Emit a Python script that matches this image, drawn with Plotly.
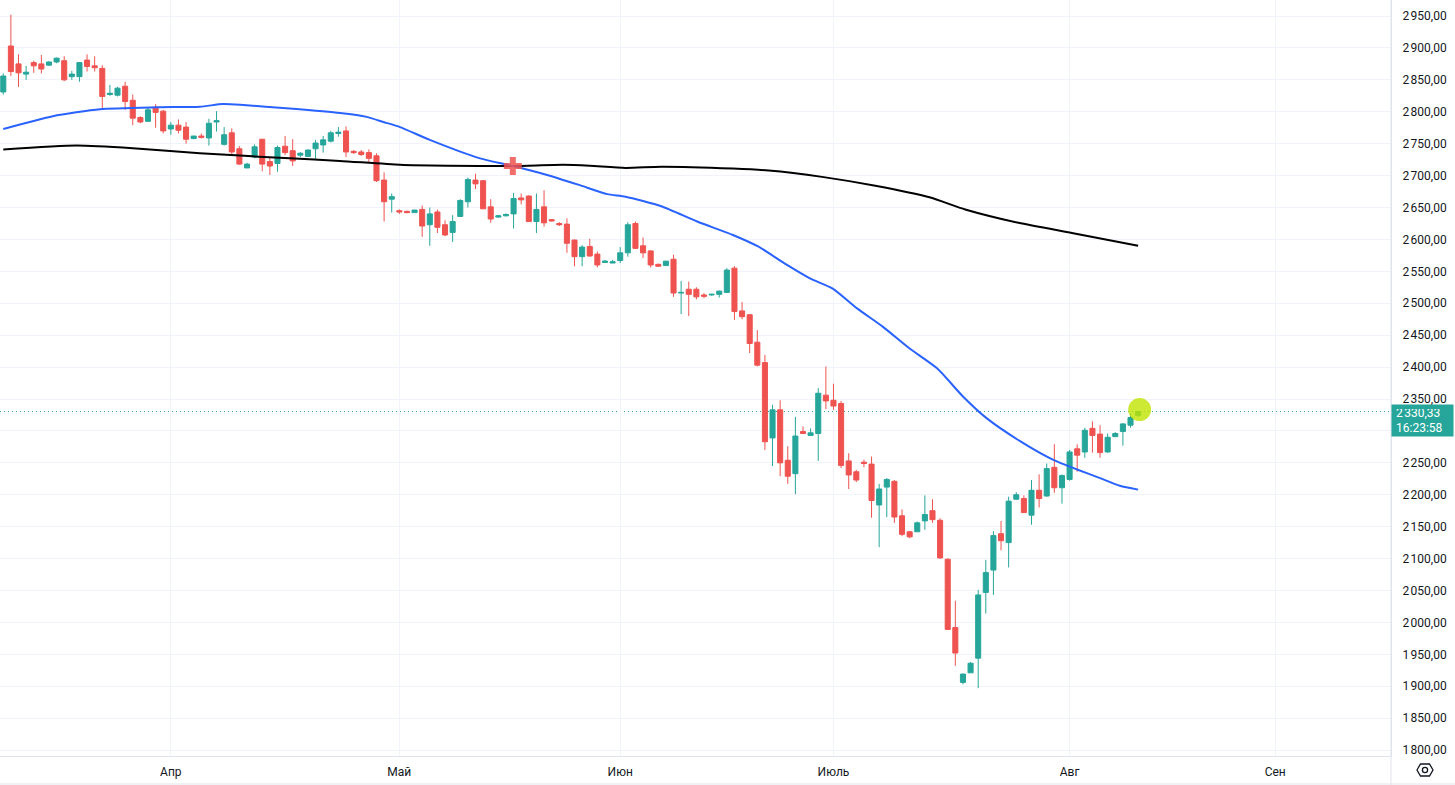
import plotly.graph_objects as go

# ---------------- data ----------------
opens = [2831, 2903, 2875, 2859, 2877, 2875, 2873, 2878, 2880, 2855,
         2855, 2881, 2872, 2868, 2827, 2826, 2840, 2818, 2791, 2785,
         2807, 2801, 2773, 2779, 2776, 2758, 2762, 2759, 2784, 2749,
         2767, 2742, 2712, 2729, 2757, 2722, 2719, 2746, 2739, 2732,
         2730, 2742, 2748, 2754, 2766, 2770, 2738, 2737, 2736, 2731,
         2693, 2663, 2645, 2644, 2642, 2647, 2623, 2643, 2623, 2611,
         2636, 2659, 2693, 2692, 2651, 2635, 2637, 2640, 2665, 2668,
         2628, 2651, 2631, 2625, 2624, 2599, 2573, 2589, 2577, 2564,
         2563, 2567, 2579, 2625, 2590, 2582, 2561, 2559, 2569, 2516,
         2522, 2522, 2513, 2513, 2514, 2517, 2555, 2488, 2482, 2439,
         2407, 2289, 2333, 2254, 2233, 2299, 2293, 2296, 2356, 2348,
         2343, 2253, 2236, 2251, 2248, 2184, 2212, 2221, 2167, 2142,
         2142, 2159, 2175, 2160, 2099, 1992, 1906, 1921, 1944, 2047,
         2082, 2139, 2125, 2193, 2194, 2168, 2207, 2198, 2243, 2211,
         2224, 2272, 2267, 2304, 2295, 2267, 2291, 2299, 2309, 2324]
highs = [2860, 2952, 2890, 2872, 2880, 2889, 2879, 2885, 2887, 2864,
         2878, 2890, 2887, 2873, 2842, 2839, 2847, 2827, 2793, 2806,
         2812, 2803, 2784, 2788, 2784, 2762, 2766, 2789, 2801, 2776,
         2774, 2746, 2720, 2749, 2757, 2729, 2747, 2762, 2757, 2737,
         2741, 2756, 2762, 2770, 2776, 2777, 2740, 2740, 2741, 2735,
         2705, 2672, 2647, 2645, 2646, 2653, 2650, 2647, 2630, 2638,
         2663, 2697, 2703, 2693, 2663, 2638, 2641, 2673, 2672, 2669,
         2672, 2677, 2632, 2627, 2633, 2600, 2591, 2601, 2581, 2568,
         2568, 2588, 2627, 2628, 2603, 2583, 2562, 2566, 2576, 2535,
         2534, 2525, 2516, 2515, 2520, 2555, 2558, 2502, 2483, 2458,
         2419, 2341, 2348, 2276, 2322, 2307, 2304, 2367, 2401, 2374,
         2347, 2265, 2239, 2255, 2260, 2217, 2226, 2223, 2177, 2143,
         2158, 2199, 2193, 2163, 2100, 2034, 1920, 1938, 2051, 2098,
         2143, 2159, 2197, 2204, 2199, 2223, 2232, 2249, 2279, 2232,
         2270, 2279, 2305, 2315, 2309, 2296, 2298, 2312, 2327, 2331]
lows = [2827, 2856, 2839, 2850, 2861, 2860, 2872, 2876, 2848, 2850,
        2847, 2863, 2863, 2803, 2825, 2824, 2803, 2779, 2782, 2784,
        2775, 2766, 2764, 2766, 2750, 2757, 2758, 2747, 2769, 2747,
        2732, 2717, 2712, 2727, 2707, 2701, 2706, 2732, 2715, 2729,
        2730, 2726, 2736, 2752, 2761, 2729, 2734, 2731, 2721, 2690,
        2628, 2642, 2640, 2641, 2642, 2604, 2590, 2610, 2605, 2596,
        2635, 2650, 2679, 2648, 2626, 2634, 2636, 2617, 2655, 2628,
        2610, 2620, 2628, 2621, 2579, 2558, 2558, 2573, 2556, 2563,
        2563, 2563, 2573, 2585, 2571, 2556, 2557, 2559, 2510, 2483,
        2480, 2506, 2508, 2512, 2509, 2516, 2474, 2475, 2422, 2401,
        2270, 2245, 2229, 2217, 2201, 2295, 2293, 2253, 2334, 2333,
        2242, 2209, 2220, 2243, 2164, 2118, 2165, 2156, 2135, 2132,
        2142, 2145, 2156, 2100, 1988, 1932, 1903, 1921, 1897, 2014,
        2043, 2113, 2086, 2192, 2172, 2153, 2180, 2197, 2203, 2186,
        2222, 2236, 2258, 2266, 2258, 2266, 2291, 2277, 2305, 2322]
closes = [2856, 2863, 2861, 2862, 2872, 2867, 2878, 2884, 2850, 2859,
          2877, 2871, 2869, 2824, 2829, 2837, 2816, 2790, 2784, 2803,
          2799, 2770, 2779, 2771, 2757, 2762, 2760, 2782, 2786, 2764,
          2737, 2718, 2718, 2745, 2718, 2715, 2744, 2736, 2723, 2735,
          2740, 2751, 2756, 2767, 2768, 2737, 2736, 2733, 2727, 2692,
          2659, 2667, 2643, 2642, 2646, 2621, 2640, 2619, 2607, 2628,
          2661, 2694, 2687, 2648, 2632, 2637, 2639, 2664, 2662, 2628,
          2647, 2626, 2629, 2623, 2594, 2573, 2588, 2574, 2560, 2566,
          2565, 2579, 2623, 2586, 2579, 2560, 2558, 2566, 2516, 2517,
          2514, 2510, 2511, 2514, 2519, 2552, 2487, 2479, 2437, 2403,
          2283, 2333, 2250, 2229, 2292, 2296, 2297, 2359, 2347, 2339,
          2246, 2231, 2223, 2249, 2191, 2209, 2224, 2165, 2138, 2134,
          2156, 2169, 2161, 2101, 1989, 1952, 1919, 1936, 2043, 2078,
          2136, 2128, 2190, 2200, 2172, 2207, 2194, 2241, 2211, 2230,
          2267, 2262, 2301, 2293, 2266, 2290, 2296, 2311, 2321, 2330.33]
bar_index = list(range(len(closes)))

# moving averages (bar position, value)
ma_fast_x = [0, 6.5, 12.7, 20.2, 25.8, 28.8, 31.1, 37.6, 44.2, 47.7,
             49.9, 52.1, 56.0, 62.6, 66.9, 71.4, 75.7, 79.3, 81.7, 86.4,
             91.1, 95.8, 99.1, 102.9, 105.9, 108.9, 112.1, 115.5, 119.0, 122.6,
             126.0, 129.1, 133.5, 137.8, 140.9, 144.0, 146.6, 149]
ma_fast_y = [2773, 2793, 2804, 2807, 2808, 2812, 2811, 2805, 2798, 2792,
             2784, 2776, 2756, 2727, 2715, 2701, 2685, 2671, 2667, 2652,
             2628, 2607, 2589, 2560, 2539, 2523, 2492, 2463, 2429, 2398,
             2354, 2320, 2284, 2255, 2240, 2226, 2214, 2208]
ma_slow_x = [0, 9.6, 17.0, 25.8, 37.6, 44.2, 52.1, 58.3, 66.9, 73.5,
             77.0, 81.7, 86.4, 95.8, 100.5, 107.5, 114.5, 121.6, 126.3, 133.3,
             140.3, 149]
ma_slow_y = [2741, 2747, 2743, 2735, 2727, 2723, 2717, 2715.5, 2715, 2717,
             2715.5, 2712, 2714, 2711, 2708, 2698, 2684, 2666, 2647, 2626,
             2610, 2590]

cross_x = [66.9]
cross_y = [2715]
highlight_x = [149.2]
highlight_y = [2333.5]

last_price = 2330.33
countdown = "16:23:58"

month_ticks = [22, 52, 81, 109, 140, 167]
month_labels = ["Апр", "Май", "Июн", "Июль", "Авг", "Сен"]
price_ticks = list(range(1800, 2951, 50))
hidden_price_ticks = [2300]   # covered by the last-price label in the reference

# ---------------- helpers ----------------
NNBSP = "\u202f"


def fmt(v):
    s = f"{v:,.2f}"
    return s.replace(",", NNBSP).replace(".", ",")


UP = "#26a69a"
DOWN = "#ef5350"
TXT = "#131722"
GRID = "#f0f3fa"
BORDER = "#e0e3eb"
FONT = "Roboto"

W, H = 1455, 785
ML, MR, MT, MB = 0, 64, 0, 29
PW, PH = W - ML - MR, H - MT - MB


def px(xp):
    return xp / PW


def py(yp):
    return (PH - yp) / PH


fig = go.Figure()

fig.add_trace(go.Scatter(
    x=ma_slow_x, y=ma_slow_y, mode="lines",
    line=dict(color="#000000", width=2, shape="spline", smoothing=0.6),
    hoverinfo="skip"))
fig.add_trace(go.Scatter(
    x=ma_fast_x, y=ma_fast_y, mode="lines",
    line=dict(color="#2962ff", width=2, shape="spline", smoothing=0.6),
    hoverinfo="skip"))

fig.add_trace(go.Candlestick(
    x=bar_index, open=opens, high=highs, low=lows, close=closes,
    increasing=dict(line=dict(color=UP, width=1), fillcolor=UP),
    decreasing=dict(line=dict(color=DOWN, width=1), fillcolor=DOWN),
    whiskerwidth=0, hoverinfo="skip"))

fig.add_trace(go.Scatter(
    x=cross_x, y=cross_y, mode="markers",
    marker=dict(symbol="cross", size=15, color="rgba(239,83,80,0.85)",
                line=dict(width=0)),
    hoverinfo="skip"))
fig.add_trace(go.Scatter(
    x=highlight_x, y=highlight_y, mode="markers",
    marker=dict(symbol="circle", size=23, color="rgba(192,228,0,0.8)",
                line=dict(width=0)),
    hoverinfo="skip"))

shapes = [
    # last price dotted line
    dict(type="line", xref="paper", yref="y", x0=0, x1=1,
         y0=last_price, y1=last_price,
         line=dict(color=UP, width=1, dash="1px,3px"), layer="below"),
    # right price-scale border extended to the bottom
    dict(type="line", xref="paper", yref="paper", x0=1, x1=1,
         y0=py(H), y1=1, line=dict(color=BORDER, width=1)),
    # bottom border
    dict(type="line", xref="paper", yref="paper", x0=0, x1=px(W),
         y0=py(H - 1), y1=py(H - 1), line=dict(color=BORDER, width=1)),
]

# settings icon (hexagon with circle) in the bottom-right corner
cx, cy = 1425 - ML, 770 - MT
hexpts = [(cx - 8, cy), (cx - 4.5, cy - 6), (cx + 4.5, cy - 6),
          (cx + 8, cy), (cx + 4.5, cy + 6), (cx - 4.5, cy + 6)]
path = "M " + " L ".join(f"{px(a):.5f},{py(b):.5f}" for a, b in hexpts) + " Z"
shapes.append(dict(type="path", xref="paper", yref="paper", path=path,
                   line=dict(color=TXT, width=1.3)))
shapes.append(dict(type="circle", xref="paper", yref="paper",
                   x0=px(cx - 2.6), x1=px(cx + 2.6),
                   y0=py(cy + 2.6), y1=py(cy - 2.6),
                   line=dict(color=TXT, width=1.3)))

annotations = [
    dict(xref="paper", yref="y", x=1, y=last_price, xanchor="left",
         yanchor="top", yshift=8, align="left",
         text=f"{fmt(last_price)}<br>{countdown}", showarrow=False,
         bgcolor=UP, borderpad=4, width=53, height=23,
         font=dict(family=FONT, size=12, color="#ffffff")),
]

fig.update_layout(
    width=W, height=H,
    margin=dict(l=ML, r=MR, t=MT, b=MB, pad=0),
    paper_bgcolor="#ffffff", plot_bgcolor="#ffffff",
    showlegend=False,
    boxgap=0.2, boxgroupgap=0.17,
    shapes=shapes, annotations=annotations,
    font=dict(family=FONT, size=12, color=TXT),
    xaxis=dict(
        range=[-0.43, 182.2], tickmode="array", tickvals=month_ticks,
        ticktext=month_labels, showgrid=True, gridcolor=GRID, gridwidth=1,
        zeroline=False, showline=True, linecolor=BORDER, linewidth=1,
        ticks="", ticklabelstandoff=5, rangeslider=dict(visible=False),
        tickfont=dict(family=FONT, size=12, color=TXT), fixedrange=True),
    yaxis=dict(
        side="right", range=[1790.7, 2975.1], tickmode="array",
        tickvals=price_ticks,
        ticktext=["" if v in hidden_price_ticks else fmt(v) for v in price_ticks],
        showgrid=True, gridcolor=GRID, gridwidth=1, zeroline=False,
        showline=True, linecolor=BORDER, linewidth=1, ticks="",
        ticklabelstandoff=8,
        tickfont=dict(family=FONT, size=12, color=TXT), fixedrange=True),
)

fig.write_html(
    "out.html",
    config={"displayModeBar": False},
    post_script="document.body.style.margin='0';document.body.style.overflow='hidden';",
)
